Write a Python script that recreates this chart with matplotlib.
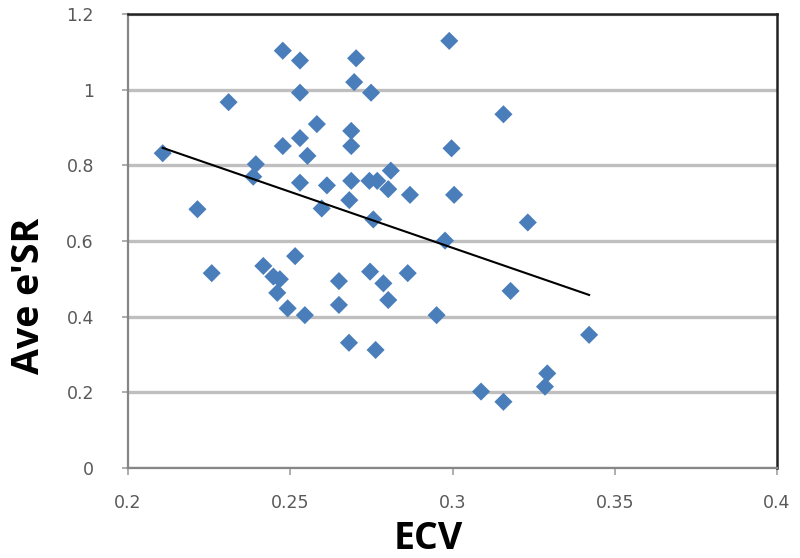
import numpy as np
import matplotlib.pyplot as plt

# ECV vs average e'SR
ecv = [0.299, 0.2477, 0.253, 0.2703, 0.2697, 0.253, 0.2749, 0.231, 0.2582, 0.2688,
       0.253, 0.2477, 0.2688, 0.2997, 0.2107, 0.2553, 0.2394, 0.2386, 0.281, 0.253,
       0.2613, 0.2688, 0.2744, 0.2768, 0.2802, 0.2869, 0.3005, 0.2682, 0.2597, 0.2214,
       0.2756, 0.2977, 0.3157, 0.3232, 0.3179, 0.2951, 0.3421, 0.3292, 0.3285, 0.3088,
       0.3157, 0.2258, 0.2417, 0.2515, 0.2448, 0.2468, 0.246, 0.2492, 0.2545, 0.265,
       0.265, 0.2681, 0.2746, 0.2787, 0.2802, 0.2763, 0.2862]
esr = [1.129, 1.103, 1.077, 1.083, 1.020, 0.992, 0.992, 0.967, 0.909, 0.891,
       0.872, 0.851, 0.851, 0.845, 0.832, 0.825, 0.803, 0.770, 0.786, 0.754,
       0.747, 0.759, 0.759, 0.759, 0.737, 0.722, 0.722, 0.708, 0.686, 0.684,
       0.657, 0.601, 0.935, 0.649, 0.468, 0.404, 0.352, 0.250, 0.215, 0.202,
       0.175, 0.515, 0.534, 0.560, 0.506, 0.499, 0.463, 0.422, 0.404, 0.494,
       0.431, 0.331, 0.519, 0.488, 0.444, 0.312, 0.515]

x_ticks = [0.2, 0.25, 0.3, 0.35, 0.4]
y_ticks = [0, 0.2, 0.4, 0.6, 0.8, 1, 1.2]

ecv = np.array(ecv)
esr = np.array(esr)

# linear trendline like Excel's
slope, icpt = np.polyfit(ecv, esr, 1)
tx = np.array([ecv.min(), ecv.max()])

fig = plt.figure(figsize=(8, 5.58), dpi=100)
ax = fig.add_axes([0.16, 0.1613, 0.81125, 0.8136])

ax.grid(axis='y', color='#BFBFBF', linewidth=2.4, zorder=0)
ax.set_axisbelow(True)
ax.scatter(ecv, esr, marker='D', s=85, color='#4A7EBB', edgecolors='none', zorder=3)
ax.plot(tx, slope * tx + icpt, color='black', linewidth=1.5, zorder=4)

ax.set_xlim(0.2, 0.4)
ax.set_ylim(0, 1.2)
ax.set_xticks(x_ticks)
ax.set_xticklabels(['0.2', '0.25', '0.3', '0.35', '0.4'])
ax.set_yticks(y_ticks)
ax.set_yticklabels(['0', '0.2', '0.4', '0.6', '0.8', '1', '1.2'])

for side in ['left', 'bottom']:
    ax.spines[side].set_color('#868686')
    ax.spines[side].set_linewidth(1.6)
for side in ['top', 'right']:
    ax.spines[side].set_color('#222222')
    ax.spines[side].set_linewidth(1.8)

ax.tick_params(axis='x', direction='out', length=5, width=1.2, color='#A0A0A0',
               labelsize=12.5, labelcolor='#595959', pad=14)
ax.tick_params(axis='y', direction='out', length=4.5, width=1.2, color='#A0A0A0',
               labelsize=12.5, labelcolor='#595959', pad=20)

ax.set_xlabel('ECV', fontsize=27, fontweight='bold', family='Open Sans', va='top')
ax.set_ylabel("Ave e'SR", fontsize=27, fontweight='bold', family='Open Sans')
ax.xaxis.set_label_coords(0.462, -0.115)
ax.yaxis.set_label_coords(-0.123, 0.379)

fig.savefig('out.png', dpi=100)
